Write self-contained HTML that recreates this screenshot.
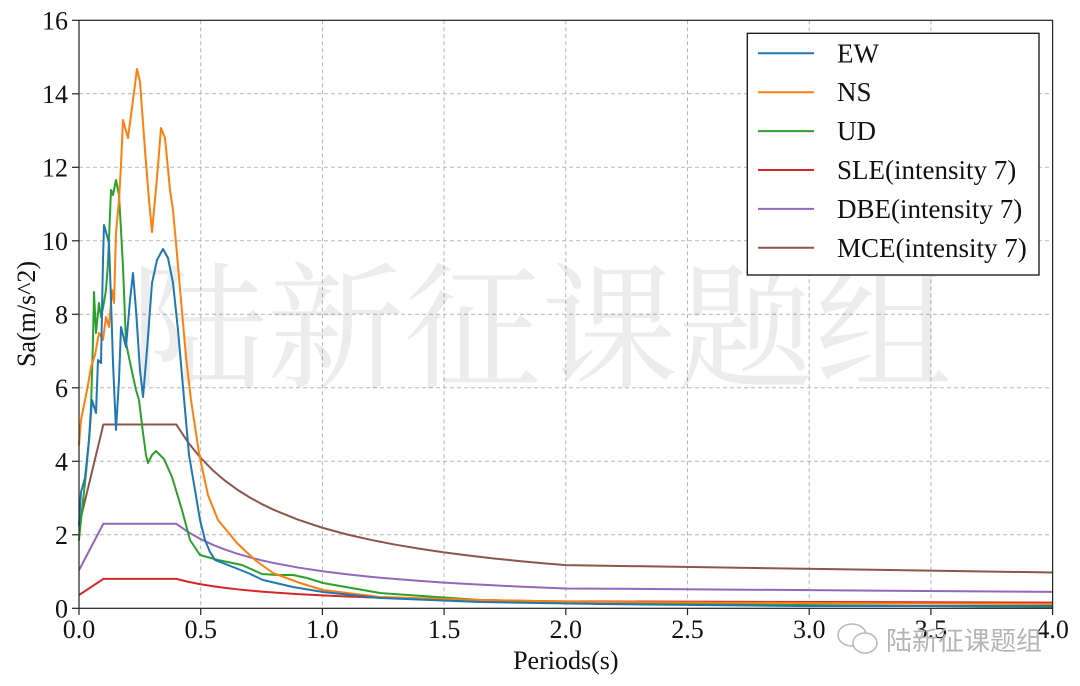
<!DOCTYPE html>
<html><head><meta charset="utf-8"><style>
html,body{margin:0;padding:0;background:#fff;}
svg{display:block;}
text{font-family:"Liberation Serif","Noto Serif CJK SC",serif;}
</style></head><body>
<svg width="1080" height="686" viewBox="0 0 1080 686" xmlns="http://www.w3.org/2000/svg">
<rect width="1080" height="686" fill="#fff"/>
<!-- grid -->
<g stroke="#b5b5b5" stroke-width="1" stroke-dasharray="4,3" fill="none">
<line x1="200.7" y1="20.3" x2="200.7" y2="608.3"/>
<line x1="322.4" y1="20.3" x2="322.4" y2="608.3"/>
<line x1="444.1" y1="20.3" x2="444.1" y2="608.3"/>
<line x1="565.8" y1="20.3" x2="565.8" y2="608.3"/>
<line x1="687.5" y1="20.3" x2="687.5" y2="608.3"/>
<line x1="809.2" y1="20.3" x2="809.2" y2="608.3"/>
<line x1="930.9" y1="20.3" x2="930.9" y2="608.3"/>
<line x1="79" y1="534.8" x2="1052.6" y2="534.8"/>
<line x1="79" y1="461.3" x2="1052.6" y2="461.3"/>
<line x1="79" y1="387.8" x2="1052.6" y2="387.8"/>
<line x1="79" y1="314.3" x2="1052.6" y2="314.3"/>
<line x1="79" y1="240.8" x2="1052.6" y2="240.8"/>
<line x1="79" y1="167.3" x2="1052.6" y2="167.3"/>
<line x1="79" y1="93.8" x2="1052.6" y2="93.8"/>
</g>
<!-- big watermark -->
<text x="130" y="377" font-size="137" fill="#000" fill-opacity="0.075" style="font-family:'Noto Serif CJK SC','Noto Sans CJK SC',serif;">陆新征课题组</text>
<!-- design spectra (data coords) -->
<g transform="translate(79,608.3) scale(243.4,-36.75)" fill="none" stroke-width="2" stroke-linejoin="round">
<polyline vector-effect="non-scaling-stroke" stroke="#8c564b" points="0,2.25 0.1,5 0.4,5 0.45,4.497 0.5,4.0905 0.55,3.754 0.6,3.4715 0.65,3.23 0.7,3.0215 0.75,2.84 0.8,2.6795 0.9,2.41 1.0,2.192 1.1,2.0115 1.2,1.8605 1.3,1.731 1.4,1.6195 1.5,1.5215 1.6,1.436 1.7,1.36 1.8,1.2915 1.9,1.23 2.0,1.1745 4.0,0.9745"/>
<polyline vector-effect="non-scaling-stroke" stroke="#9467bd" points="0,1.035 0.1,2.3 0.4,2.3 0.45,2.0686 0.5,1.8816 0.55,1.7268 0.6,1.5969 0.65,1.4858 0.7,1.3899 0.75,1.3064 0.8,1.2326 0.9,1.1086 1.0,1.0083 1.1,0.9253 1.2,0.8558 1.3,0.7963 1.4,0.745 1.5,0.6999 1.6,0.6606 1.7,0.6256 1.8,0.5941 1.9,0.5658 2.0,0.5403 4.0,0.4483"/>
<polyline vector-effect="non-scaling-stroke" stroke="#d62728" points="0,0.36 0.1,0.8 0.4,0.8 0.45,0.7195 0.5,0.6545 0.55,0.6006 0.6,0.5554 0.65,0.5168 0.7,0.4834 0.75,0.4544 0.8,0.4287 0.9,0.3856 1.0,0.3507 1.1,0.3218 1.2,0.2977 1.3,0.277 1.4,0.2591 1.5,0.2434 1.6,0.2298 1.7,0.2176 1.8,0.2066 1.9,0.1968 2.0,0.1879 4.0,0.1559"/>
</g>
<!-- record spectra (pixel coords) -->
<g fill="none" stroke-width="2" stroke-linejoin="round" stroke-linecap="round">
<polyline stroke="#2ca02c" points="79,540 81,520 86,473 89,440 91,407 93,340 94,292 96,333 99,303 101,317 103,308 106,290 108,263 110,215 111,190 113,195 116,180 119,195 121,230 123,267 126,343 131,367 136,390 139,400 143,433 146,455 148,463 152,455 156,451 160,455 164,459 172,477 182,510 190,540 200,555 218,560 242,565 262,574 277,575 293,575 307,578 323,583 380,593 480,600 600,603 800,605 1052,607"/>
<polyline stroke="#ff7f0e" points="79,445 81,420 85,400 88,385 91,367 95,355 99,333 103,340 106,317 109,327 112,290 114,303 116,233 119,200 121,165 123,120 128,138 133,100 137,69 140,82 145,150 149,200 152,232 157,178 161,128 165,138 170,190 173,210 176,243 181,300 186,357 191,400 199,453 203,472 208,495 218,520 237,543 255,560 273,573 300,583 323,590 380,597 480,600 600,602 800,603 1052,604"/>
<polyline stroke="#1f77b4" points="79,525 81,492 85,478 89,440 92,400 96,413 98,360 101,363 103,260 104,225 106,232 109,243 111,300 113,363 116,430 119,380 121,327 126,347 130,300 133,273 136,310 140,370 143,397 147,350 152,283 157,260 163,249 168,258 173,283 178,330 183,387 189,455 195,490 200,520 205,540 210,552 215,560 233,567 248,573 263,580 293,587 323,592 380,598 480,602 600,604 800,606 1052,606"/>
</g>
<!-- axes box -->
<rect x="79" y="20.3" width="973.6" height="588" fill="none" stroke="#222" stroke-width="1.2"/>
<!-- ticks -->
<g stroke="#222" stroke-width="1.2">
<line x1="79" y1="608.3" x2="79" y2="615"/>
<line x1="200.7" y1="608.3" x2="200.7" y2="615"/>
<line x1="322.4" y1="608.3" x2="322.4" y2="615"/>
<line x1="444.1" y1="608.3" x2="444.1" y2="615"/>
<line x1="565.8" y1="608.3" x2="565.8" y2="615"/>
<line x1="687.5" y1="608.3" x2="687.5" y2="615"/>
<line x1="809.2" y1="608.3" x2="809.2" y2="615"/>
<line x1="930.9" y1="608.3" x2="930.9" y2="615"/>
<line x1="1052.6" y1="608.3" x2="1052.6" y2="615"/>
<line x1="72" y1="608.3" x2="79" y2="608.3"/>
<line x1="72" y1="534.8" x2="79" y2="534.8"/>
<line x1="72" y1="461.3" x2="79" y2="461.3"/>
<line x1="72" y1="387.8" x2="79" y2="387.8"/>
<line x1="72" y1="314.3" x2="79" y2="314.3"/>
<line x1="72" y1="240.8" x2="79" y2="240.8"/>
<line x1="72" y1="167.3" x2="79" y2="167.3"/>
<line x1="72" y1="93.8" x2="79" y2="93.8"/>
<line x1="72" y1="20.3" x2="79" y2="20.3"/>
</g>
<g font-size="26" fill="#111" text-anchor="middle">
<text x="79" y="638">0.0</text>
<text x="200.7" y="638">0.5</text>
<text x="322.4" y="638">1.0</text>
<text x="444.1" y="638">1.5</text>
<text x="565.8" y="638">2.0</text>
<text x="687.5" y="638">2.5</text>
<text x="809.2" y="638">3.0</text>
<text x="930.9" y="638">3.5</text>
<text x="1052.6" y="638">4.0</text>
</g>
<g font-size="26" fill="#111" text-anchor="end">
<text x="68" y="617.3">0</text>
<text x="68" y="543.8">2</text>
<text x="68" y="470.3">4</text>
<text x="68" y="396.8">6</text>
<text x="68" y="323.3">8</text>
<text x="68" y="249.8">10</text>
<text x="68" y="176.3">12</text>
<text x="68" y="102.8">14</text>
<text x="68" y="29.3">16</text>
</g>
<text x="565.8" y="669" font-size="26" fill="#111" text-anchor="middle">Periods(s)</text>
<text transform="translate(35,314) rotate(-90)" x="0" y="0" font-size="26" fill="#111" text-anchor="middle">Sa(m/s^2)</text>
<!-- legend -->
<rect x="747.3" y="33.3" width="291.7" height="241.7" fill="#fff" stroke="#111" stroke-width="1.3"/>
<g stroke-width="2">
<line x1="758" y1="53.3" x2="814" y2="53.3" stroke="#1f77b4"/>
<line x1="758" y1="92.2" x2="814" y2="92.2" stroke="#ff7f0e"/>
<line x1="758" y1="131.1" x2="814" y2="131.1" stroke="#2ca02c"/>
<line x1="758" y1="170" x2="814" y2="170" stroke="#d62728"/>
<line x1="758" y1="208.9" x2="814" y2="208.9" stroke="#9467bd"/>
<line x1="758" y1="247.8" x2="814" y2="247.8" stroke="#8c564b"/>
</g>
<g font-size="27" fill="#111">
<text x="837" y="62.3">EW</text>
<text x="837" y="101.2">NS</text>
<text x="837" y="140.1">UD</text>
<text x="837" y="179">SLE(intensity 7)</text>
<text x="837" y="217.9">DBE(intensity 7)</text>
<text x="837" y="256.8">MCE(intensity 7)</text>
</g>
<!-- bottom-right watermark -->
<g fill="#fff" stroke="#b0b0b0" stroke-width="1.5" opacity="0.9">
<ellipse cx="852" cy="635" rx="14" ry="11"/>
<ellipse cx="865" cy="643" rx="12" ry="10"/>
</g>
<text x="886" y="650" font-size="26" fill="#b4b4b4" style="font-family:'Noto Sans CJK SC',sans-serif;">陆新征课题组</text>
</svg>
</body></html>
